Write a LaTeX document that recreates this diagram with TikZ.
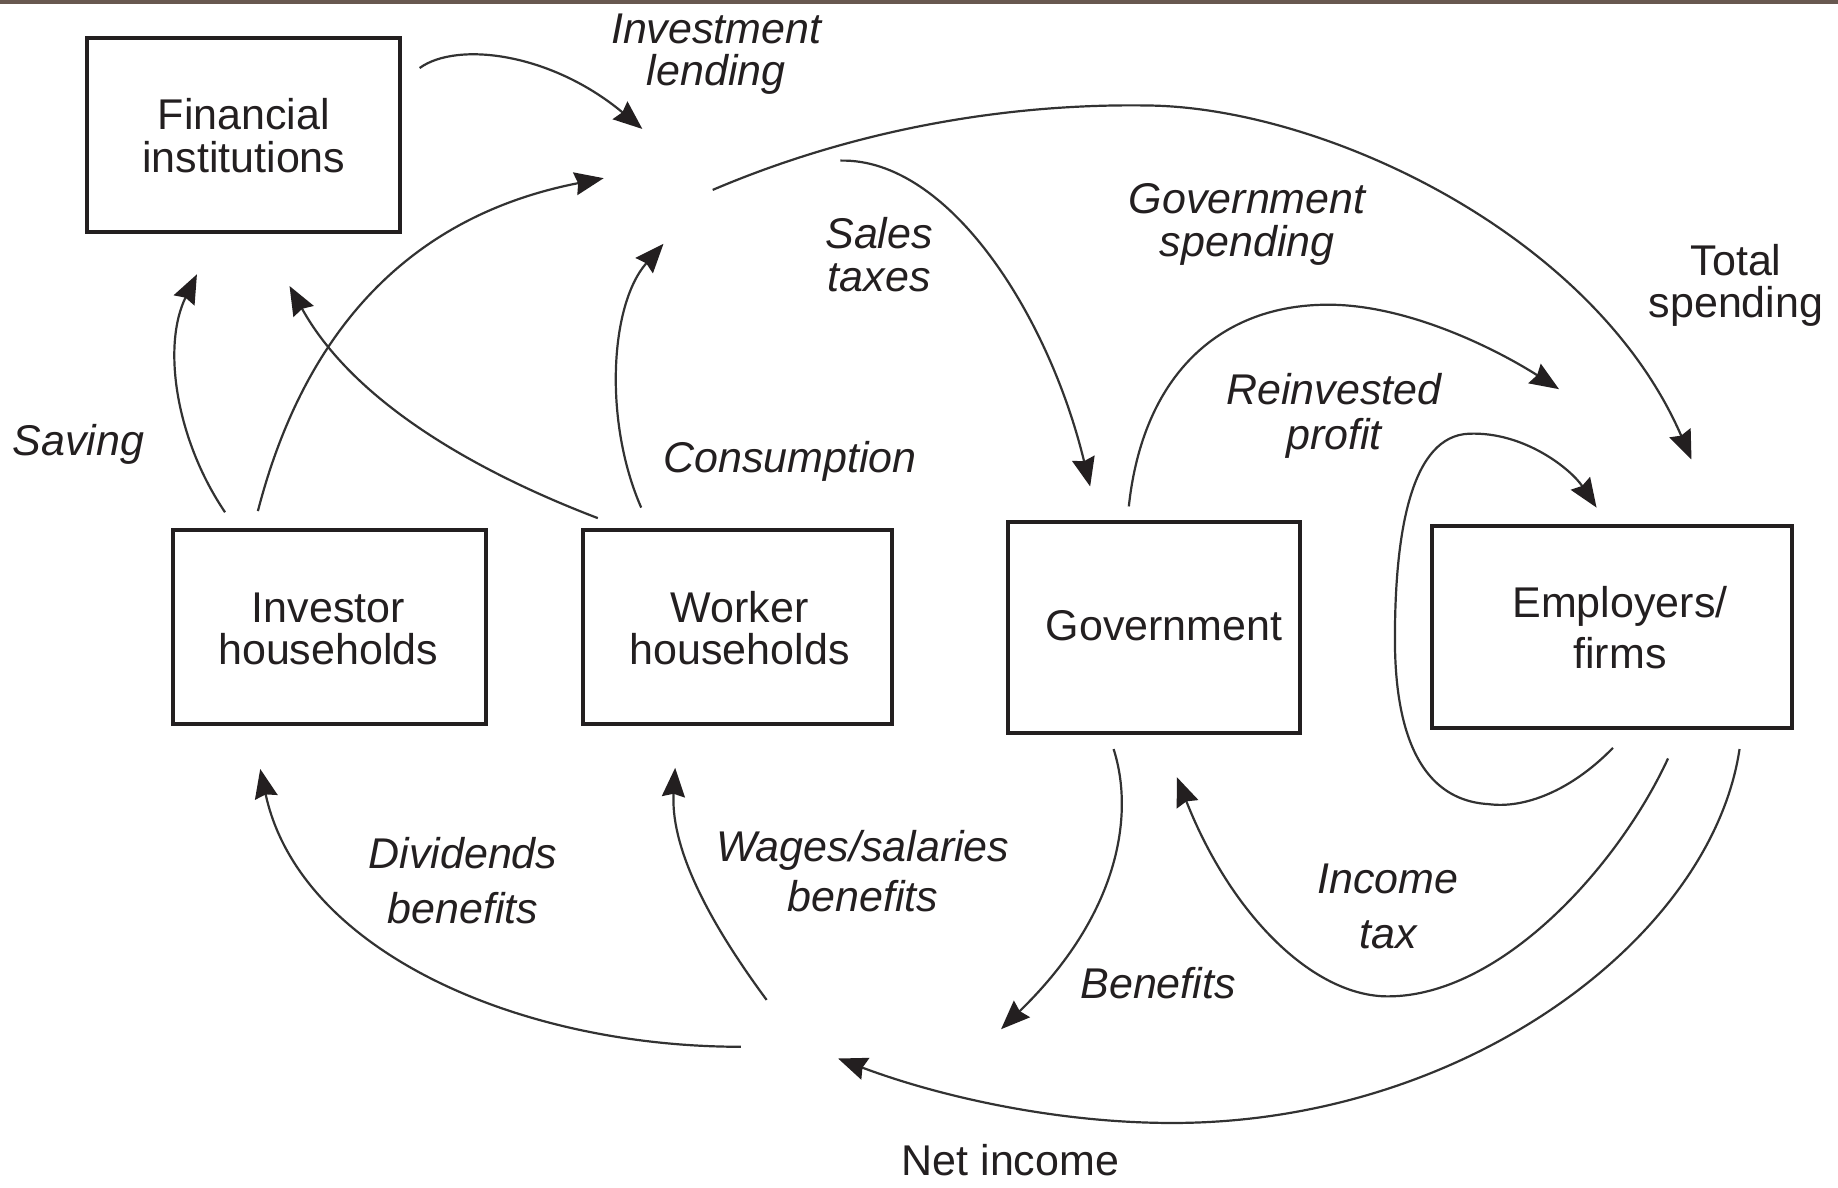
\documentclass[tikz,border=0pt]{standalone}
\usepackage{fontspec}
\setmainfont{Liberation Sans}
\usetikzlibrary{arrows.meta}
\definecolor{topbar}{RGB}{104,88,80}
\definecolor{ink}{RGB}{35,31,32}
\definecolor{wire}{RGB}{50,50,50}
\newcommand\twoline[3]{\fontsize{21.5pt}{#1}\selectfont\vtop{\halign{\hfil##\hfil\cr #2\cr #3\cr}}}
\newcommand\oneline[1]{\fontsize{21.5pt}{21.5pt}\selectfont #1}
\begin{document}
\begin{tikzpicture}[x=0.5861pt, y=-0.5861pt,
  box/.style={draw=ink, line width=2pt, inner sep=0pt},
  txt/.style={inner sep=0pt, anchor=base, text=ink},
  lbl/.style={txt, font=\itshape},
  flow/.style={draw=wire, line width=1.1pt, -{Stealth[length=14.5pt,width=11.5pt,inset=1.5pt,color=ink]}}]

\useasboundingbox (0,0) rectangle (1568,1013);
\fill[white] (0,0) rectangle (1568,1013);
\fill[topbar] (0,0) rectangle (1568,3);

% boxes
\node[box, minimum width=156.5pt, minimum height=97.3pt] (fin) at (207.5,115) {};
\node[box, minimum width=156.5pt, minimum height=97.3pt] (inv) at (281.5,535) {};
\node[box, minimum width=154.7pt, minimum height=97.3pt] (wrk) at (629,535) {};
\node[box, minimum width=145.9pt, minimum height=105.5pt] (gov) at (984.5,535) {};
\node[box, minimum width=179.9pt, minimum height=100.8pt] (emp) at (1375.5,535) {};

% box texts
\node[txt] (fin-t) at (208,110.5) {\twoline{21.5pt}{Financial}{institutions}};
\node[txt] (inv-t) at (280,531) {\twoline{21.1pt}{Investor}{households}};
\node[txt] (wrk-t) at (631,531) {\twoline{21.1pt}{Worker}{households}};
\node[txt] (gov-t) at (993,546) {\oneline{Government}};
\node[txt] (emp-t) at (1382,527) {\twoline{25.2pt}{Employers/}{firms}};

% labels
\node[lbl] (l-invest) at (611,37) {\twoline{21.1pt}{Investment}{lending}};
\node[lbl] (l-sales) at (750,212) {\twoline{21.7pt}{Sales}{taxes}};
\node[lbl] (l-gspend) at (1064,182) {\twoline{21.7pt}{Government}{spending}};
\node[txt] (l-total) at (1481,235) {\twoline{21.1pt}{Total}{spending}};
\node[lbl] (l-reinv) at (1138,345) {\twoline{22.3pt}{Reinvested}{profit}};
\node[lbl] (l-saving) at (67,389) {\oneline{Saving}};
\node[lbl] (l-cons) at (674,403) {\oneline{Consumption}};
\node[lbl] (l-div) at (395,741) {\twoline{27.5pt}{Dividends}{benefits}};
\node[lbl] (l-wages) at (736,735) {\twoline{25.2pt}{Wages/salaries}{benefits}};
\node[lbl] (l-itax) at (1184,762) {\twoline{27.5pt}{Income}{tax}};
\node[lbl] (l-ben) at (988,852) {\oneline{Benefits}};
\node[txt] (l-net) at (862,1003) {\oneline{Net income}};

% connector end points
\coordinate (il-s) at (358,58);   \coordinate (il-e) at (548,110);
\coordinate (ih-s) at (220,436);  \coordinate (ih-e) at (515,152);
\coordinate (wh-s) at (510,442);  \coordinate (wh-e) at (247,244);
\coordinate (sv-s) at (192,437);  \coordinate (sv-e) at (168,234);
\coordinate (cs-s) at (547,433);  \coordinate (cs-e) at (566,208);
\coordinate (ts-s) at (608,162);  \coordinate (ts-m) at (980,90);  \coordinate (ts-e) at (1443,392);
\coordinate (st-s) at (717,137);  \coordinate (st-e) at (930,415);
\coordinate (gs-s) at (963,432);  \coordinate (gs-m) at (1128,260); \coordinate (gs-e) at (1330,332);
\coordinate (rp-s) at (1376,638); \coordinate (rp-a) at (1270,686); \coordinate (rp-b) at (1190,545);
\coordinate (rp-c) at (1253,370); \coordinate (rp-e) at (1362,433);
\coordinate (it-s) at (1423,647); \coordinate (it-m) at (1184,850); \coordinate (it-e) at (1004,663);
\coordinate (ni-s) at (1484,639); \coordinate (ni-m) at (1000,958); \coordinate (ni-e) at (715,903);
\coordinate (bn-s) at (950,639);  \coordinate (bn-e) at (854,878);
\coordinate (dv-s) at (632,893);  \coordinate (dv-e) at (222,656);
\coordinate (wg-s) at (654,853);  \coordinate (wg-e) at (576,655);

% connectors
\draw[flow] (il-s) .. controls (390,35) and (470,45) .. (il-e);
\draw[flow] (ih-s) .. controls (250,320) and (320,190) .. (ih-e);
\draw[flow] (wh-s) .. controls (400,400) and (300,340) .. (wh-e);
\draw[flow] (sv-s) .. controls (150,375) and (138,295) .. (sv-e);
\draw[flow] (cs-s) .. controls (515,360) and (520,260) .. (cs-e);
\draw[flow] (ts-s) .. controls (730,110) and (860,88) .. (ts-m) .. controls (1130,92) and (1360,200) .. (ts-e);
\draw[flow] (st-s) .. controls (810,135) and (895,270) .. (st-e);
\draw[flow] (gs-s) .. controls (975,320) and (1040,262) .. (gs-m) .. controls (1200,258) and (1280,300) .. (gs-e);
\draw[flow] (rp-s) .. controls (1340,675) and (1300,690) .. (rp-a) .. controls (1200,682) and (1190,600) .. (rp-b) .. controls (1190,450) and (1205,372) .. (rp-c) .. controls (1300,368) and (1340,400) .. (rp-e);
\draw[flow] (it-s) .. controls (1380,740) and (1280,850) .. (it-m) .. controls (1120,850) and (1050,780) .. (it-e);
\draw[flow] (ni-s) .. controls (1460,800) and (1250,958) .. (ni-m) .. controls (900,958) and (800,935) .. (ni-e);
\draw[flow] (bn-s) .. controls (968,695) and (955,780) .. (bn-e);
\draw[flow] (dv-s) .. controls (440,893) and (255,810) .. (dv-e);
\draw[flow] (wg-s) .. controls (600,780) and (572,720) .. (wg-e);
\end{tikzpicture}
\end{document}
